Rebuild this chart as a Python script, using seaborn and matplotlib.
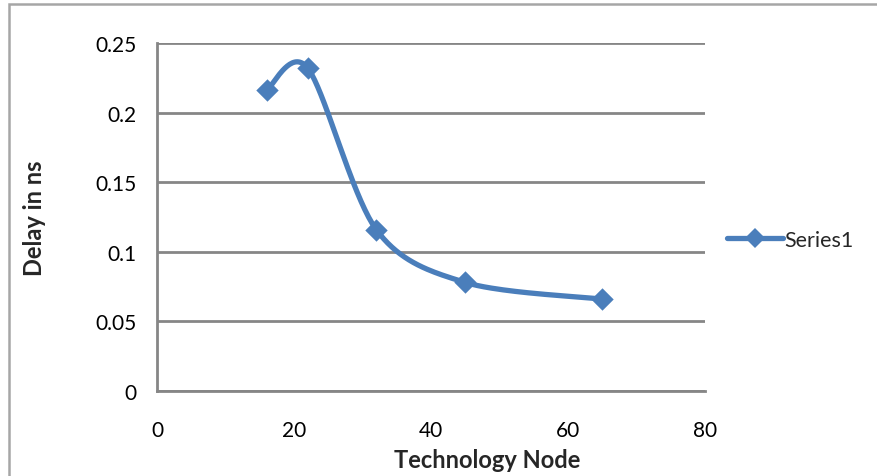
import numpy as np
import pandas as pd
import seaborn as sns
import matplotlib.pyplot as plt
from matplotlib.patches import Rectangle
from matplotlib.lines import Line2D

# Delay measured at each technology node
nodes = [16, 22, 32, 45, 65]
delay_ns = [0.216, 0.232, 0.116, 0.078, 0.066]
series_name = "Series1"
x_ticks = [0, 20, 40, 60, 80]
y_ticks = [0, 0.05, 0.1, 0.15, 0.2, 0.25]
y_tick_labels = ["0", "0.05", "0.1", "0.15", "0.2", "0.25"]

BLUE = "#4a7ebb"
GRID = "#868686"


def smooth_curve(xs, ys, steps=40):
    """Catmull-Rom style Bezier through the points (spreadsheet 'smoothed line')."""
    pts = np.column_stack([xs, ys]).astype(float)
    n = len(pts)
    out = [pts[0]]
    for i in range(n - 1):
        p0 = pts[i - 1] if i > 0 else pts[i]
        p1 = pts[i]
        p2 = pts[i + 1]
        p3 = pts[i + 2] if i + 2 < n else pts[i + 1]
        c1 = p1 + (p2 - p0) / 6.5
        c2 = p2 - (p3 - p1) / 6.5
        t = np.linspace(0, 1, steps)[1:, None]
        seg = ((1 - t) ** 3) * p1 + 3 * ((1 - t) ** 2) * t * c1 + 3 * (1 - t) * t ** 2 * c2 + t ** 3 * p2
        out.extend(seg)
    out = np.array(out)
    return out[:, 0], out[:, 1]


sns.set_style("white")
plt.rcParams["font.family"] = ["Lato", "DejaVu Sans"]

fig = plt.figure(figsize=(8.77, 4.77), dpi=100)
ax = fig.add_axes([157 / 877, 1 - 392 / 477, 548 / 877, 348 / 477])

sx, sy = smooth_curve(nodes, delay_ns)
curve = pd.DataFrame({"node": sx, "delay": sy})
points = pd.DataFrame({"node": nodes, "delay": delay_ns})

sns.lineplot(data=curve, x="node", y="delay", ax=ax, color=BLUE, lw=3.8,
             sort=False, estimator=None, zorder=3)
sns.scatterplot(data=points, x="node", y="delay", ax=ax, color=BLUE, marker="D",
                s=130, edgecolor=BLUE, linewidth=0, zorder=4)

ax.set_xlim(0, 80)
ax.set_ylim(0, 0.25)
ax.set_xticks(x_ticks)
ax.set_yticks(y_ticks)
ax.set_yticklabels(y_tick_labels)
ax.tick_params(axis="both", labelsize=15, colors="black", length=0, pad=10)
ax.tick_params(axis="x", length=7, width=1.5, color=GRID, direction="out", pad=14)
ax.tick_params(axis="y", length=7, width=1.5, color=GRID, direction="out", pad=8)

ax.yaxis.grid(True, color=GRID, lw=2)
ax.xaxis.grid(False)
for side in ["top", "right"]:
    ax.spines[side].set_visible(False)
for side in ["left", "bottom"]:
    ax.spines[side].set_color(GRID)
    ax.spines[side].set_linewidth(2)

ax.set_xlabel("")
ax.set_ylabel("")
fig.text(487 / 877, 1 - 461 / 477, "Technology Node", ha="center", va="center",
         fontsize=17, fontweight="bold")
fig.text(35 / 877, 1 - 218 / 477, "Delay in ns", ha="center", va="center",
         rotation=90, fontsize=17, fontweight="bold")

# legend entry
handle = Line2D([], [], color=BLUE, lw=3.8, marker="D", markersize=10,
                markeredgewidth=0)
fig.legend([handle], [series_name], loc="center left",
           bbox_to_anchor=(716 / 877, 1 - 241 / 477), frameon=False,
           fontsize=15.5, handlelength=2.6, handletextpad=0.05, borderpad=0)

# chart outline
fig.add_artist(Rectangle((9 / 877, -0.1), 1.1, 1 - 5 / 477 + 0.1,
                         transform=fig.transFigure, fill=False,
                         edgecolor="#a6a6a6", lw=1.8))

fig.savefig("out.png", dpi=100)
